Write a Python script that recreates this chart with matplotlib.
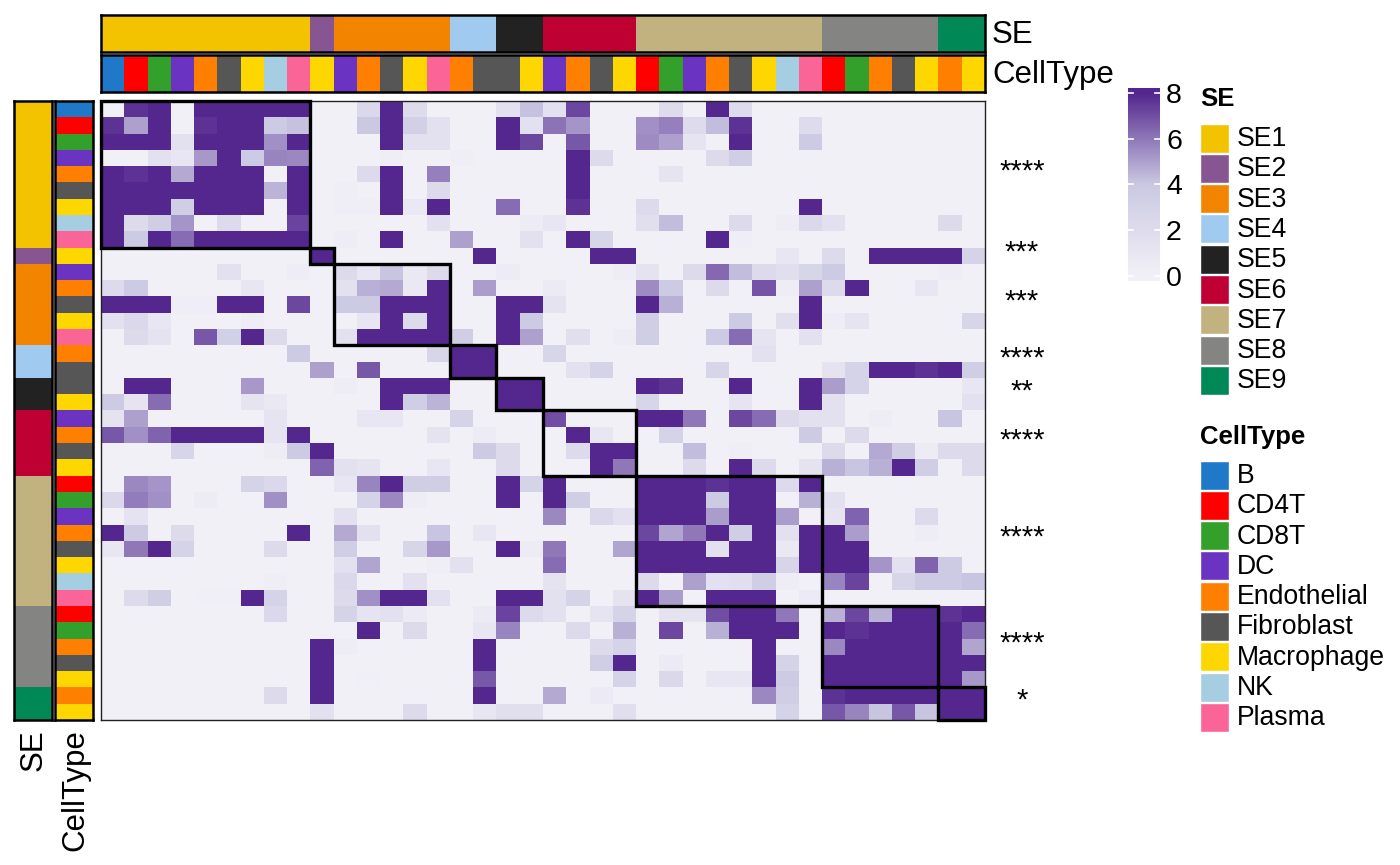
import numpy as np
import matplotlib
matplotlib.use("Agg")
import matplotlib.pyplot as plt
from matplotlib.colors import LinearSegmentedColormap, ListedColormap
from matplotlib.patches import Rectangle

plt.rcParams['font.family'] = ['Liberation Sans', 'DejaVu Sans']

# ---------------- data ----------------
se_levels = ["SE1", "SE2", "SE3", "SE4", "SE5", "SE6", "SE7", "SE8", "SE9"]
se_colors = ["#F3C300", "#875692", "#F38400", "#A1CAF1", "#222222",
             "#BE0032", "#C2B280", "#848482", "#008856"]
ct_levels = ["B", "CD4T", "CD8T", "DC", "Endothelial", "Fibroblast",
             "Macrophage", "NK", "Plasma"]
ct_colors = ["#1F78C8", "#FF0000", "#33A02C", "#6A33C2", "#FF7F00",
             "#565656", "#FFD700", "#A6CEE3", "#FB6496"]

sample_se = (["SE1"] * 9 + ["SE2"] + ["SE3"] * 5 + ["SE4"] * 2 + ["SE5"] * 2 +
             ["SE6"] * 4 + ["SE7"] * 8 + ["SE8"] * 5 + ["SE9"] * 2)
sample_ct = ["B", "CD4T", "CD8T", "DC", "Endothelial", "Fibroblast", "Macrophage", "NK", "Plasma",
             "Macrophage",
             "DC", "Endothelial", "Fibroblast", "Macrophage", "Plasma",
             "Endothelial", "Fibroblast",
             "Fibroblast", "Macrophage",
             "DC", "Endothelial", "Fibroblast", "Macrophage",
             "CD4T", "CD8T", "DC", "Endothelial", "Fibroblast", "Macrophage", "NK", "Plasma",
             "CD4T", "CD8T", "Endothelial", "Fibroblast", "Macrophage",
             "Endothelial", "Macrophage"]

significance = ["****", "***", "***", "****", "**", "****", "****", "****", "*"]

values = [
 [0,7.7,8,0,8,8,8,8,8,0,0,2.5,8,2,0,0,0,1.5,4.2,1.5,7.2,0,0,0,2,0,8,2,0,0,0,0,0,0,0,0,0,0],
 [7.7,5,8,0,7.7,8,8,3.8,4.2,0,0,4,8,3.3,1.5,0,0,8,1.5,6.1,5.3,0,0,5.4,5.8,2,4.3,7.7,0,0,2,0,0,0,0,0,0,0],
 [8,8,8,1.5,8,8,8,5.4,8,0,0,0,8,1.5,1.5,0,0,8,7.2,0,6.8,0,0,5.5,5,1.2,0,8,0,0,3.8,0,0,0,0,0,0,0],
 [0,0,1.5,1,5.2,8,3.8,5.7,5.6,0,0,0,0.3,0,0,0.3,0,0,0,0,8,2.2,0,0,0,0,2.3,3.5,0,0,0,0,0,0,0,0,0,0],
 [8,7.7,8,4.8,8,8,8,0,8,0,0,2.2,8,0,5.8,0,0,0,0,0,8,0,0,0,1.2,0,0,0,0,0,0,0,0,0,0,0,0,0],
 [8,8,8,8,8,8,8,4.5,8,0,0.3,0,8,0,2.2,0,0,0,0,0,8,0,0,0,0,0,0,0,0,0,0,0,0,0,0,0,0,0],
 [8,8,8,3.5,8,8,8,0,8,0,0.3,0.3,8,0.8,8,0,0,6.3,0,0,7.7,0,0,2.3,0,0,0,0,0,0,8,0,0,0,0,0,0,0],
 [8,2.3,3.5,5.3,0,2.3,0,0,7.3,0,0,0,0,0,1.5,0,0,0,0.5,1,0,0,0,1.8,4.3,0,0,2.2,0,0.4,2.5,1.5,0,0,0,0,2.3,0],
 [8,3.8,8,6.3,8,8,8,8,8,0,0.4,0,8,0,0,5,0,0,1.5,0,8,2.8,0,0,0,0,8,0.3,0,0,0,0,0,0,0,0,0,0],
 [0,0,0,0,0,0,0,0,0,8,0,0,0,0,0,0,8,0,0,0,0,8,8,0,0,0,0,0,0,1,0,2.3,0,8,8,8,8,3],
 [0,0,0,0,0,1.5,0,0,0.4,0,2.2,1,4.1,0.8,2.3,0,0,0.5,0,0,0,0,0.4,1.4,0,2.3,6.4,4.3,2.2,1.8,2.8,3.8,0,0,0,0,0.4,0],
 [2.2,3.8,0,0,0,0,1,0,0,0,1.5,4.6,4.8,0.8,8,0,5.1,0,0,0.6,0,0,0,5.5,3.8,0,2.2,0,6.9,0.4,5,2.2,8,0,0,1,0,0],
 [8,8,8,0.3,0.3,8,8,0,7.2,0,3.8,3.8,8,8,8,0,0,8,8,1.4,0,0,0,8,4.6,0,0,0,0,0,8,0,0,0,0,0,0,0],
 [1.5,2.5,1,0,0,0,0.4,0,0,0,0,1,8,2.3,8,0,0,8,3.8,0,0,0,0,3.5,0,0,0,3.8,0,1.8,8,0.4,1.2,0,0,0,0,2.8],
 [0,2.2,1.4,0,6.8,3.3,8,2.3,0,0,1.5,8,8,8,8,3.5,0,8,5,0,1.8,0,0.4,3.5,0,0,3.8,6.3,1.2,0,1.5,0,0,0,0,0,0,0],
 [0,0,0,0,0,0,0,0,3.8,0,0,0,0,0,2.8,8,8,0,0,2.8,0,0,0,0,0,0,0,0,1.5,0,0,0,0,0,0,0,0,0],
 [0,0,0,0,0,0,0,0,0,5,0,6.8,0,0,0,8,8,0,0,0,1.5,3,0,0,0,0,2.8,0,0,0,0,1.4,3,8,8,7.7,8,3.5],
 [0,8,8,0,0,0,5.2,0,0,0,0.4,0,8,8,8,0,0,8,8,0,0,0,0,8,7.7,0,0,8,0,0,8,5.1,3,0,0,0,0,1],
 [3.8,1.2,6.3,0,0,0,1.2,0.8,0,0,0,0,8,3.5,4.5,0,0,8,8,0,0,0,0,2.8,0,0,0,1.2,0,0,8,1.5,0,0,0,0,0,1.5],
 [1.4,5,0,0,0,0,0,1.2,0,0,0,1,1,0,0,3,0,0,0,7,0,0,0,8,8,6,0,7.2,6.3,2.2,1.5,1.5,0,0.4,0,0,4.1,0],
 [6.8,5.4,6.5,8,8,8,8,1.2,8,0,0,0,0,0,1.4,0,0.5,0,0,0,8,1,0,0,3,0,0,0,0,0,3.8,0,2.2,0,0,0,0,0],
 [0,0,0,2.8,0,0,0,0.4,3.8,8,0,0,0,0,0,0,3.8,2.3,0,0,2.3,8,8,0,0,4.3,0,0.3,0,0,0,2.2,0,4.8,3.5,0.5,2.2,2.2],
 [0,0,0,0,0,0,0,0,0,6.5,1.5,1.2,0,0,1,0,0,2.2,0,0,0,8,6,0,0,2.3,0,8,2.2,0,1.4,4.6,4.1,4.6,8,3.5,0,2.2],
 [0,5.6,5.3,0,0,0,3,2.5,0,0,1,5.7,8,3.5,3.5,0,0,8,3,8,0,0,0,8,8,8,7.7,8,8,2.2,8,0,0,0,0,0,0,0],
 [2.5,5.9,5.4,0,0.5,0,0,5.4,0,0,0,3,5.6,0.4,0,0,0,8,0,8,3.5,0,0,8,8,8,3.8,8,8,0,4.6,1.5,0,0,0,0,0,0],
 [0,1.4,0,0,0,0,0,0,0,0,1.5,0,0,0,0,0,0,0,0,5.6,0,2.5,1.5,8,8,8,5.1,8,8,5.1,0,1.2,6.5,0,0,2.3,0,0],
 [8,3.8,0,2.3,0,0,0,0,8,0,4.8,1.5,0,0,4.1,0,1,0,0,0,0,0,0,7.2,4.9,6,8,3.5,8,1.5,8,8,5.1,0,0,0.4,0,0],
 [1,6,8,3,0,0,0,2.3,0,0,3.5,0,0,2.8,5.2,0,0,8,0.5,6,0,0,4.9,8,8,8,1.5,8,8,0.8,8,8,8,0,0,0,0,0],
 [0,0,0,0,0,0,0,0,0,0,1.5,4.9,0,0,0.3,1.5,0,0,0,6.3,0,0,0,8,8,8,8,8,8,2.8,8,8,8,5.3,1.5,6.5,3.8,0],
 [0,0,0,0,0,0,0,0.3,0,0,2.5,0,0,1.5,0,0,0,0,0,1.4,0,0,0,2.2,0,5,1.5,1.8,3.5,0.4,0,5.7,7.3,0,2.8,3.8,3.8,4.1],
 [0,2.2,3.5,0,0.2,0.2,8,3,0,0,2.3,5.4,8,8,1.5,0,0,8,8,1.5,3,0,1.4,8,5.1,0,8,8,8,0,0.6,0,0,0,0,0,0,0],
 [0,0,0,0,0,0,0,2.5,0,0,3,1.2,1.5,0.6,0,0,0.6,7.3,2.2,1.5,0,1.2,3,0,1.4,1.4,7,8,8,6,0,4.6,7.2,4.6,8,8,7.7,8],
 [0,0,0,0,0,0,0,0,0,0,0,8,0,2.2,0,0,1,5.7,0,0,2.2,0,4.6,0,7.2,0,4.6,8,8,8,0,8,7.7,8,8,8,8,6.3],
 [0,0,0,0,0,0,0,0,0,8,0.4,0,0,0,0,0,8,0,0,0,0,2.2,3,0,0,0,0,0,8,0,0,5.6,8,8,8,8,8,4.9],
 [0,0,0,0,0,0,0,0,0,8,0,0,0,0,0,0,8,0,0,0,0,3.5,8,0,0.6,0,0,0,8,3,0,8,8,8,8,8,8,8],
 [0,0,0,0,0,0,0,0,0,8,0,0.2,0,0,0,0,6.8,0,0,0,0,0,3,0,2.5,0,1,1,8,3.8,0,8,8,8,8,8,8,5.2],
 [0,0,0,0,0,0,0,2.2,0,8,0,0,0,0,0,0,8,0,0,4.8,0,0.6,0,0,0,0,0,0,5.6,3.5,0,7.7,8,8,8,8,8,8],
 [0,0,0,0,0,0,0,0,0,1.5,0,0,0,2.2,0,0,1,1.8,1.8,0,0,0,1.8,0,0,0,0,0,0,3,0,6.8,5.7,4.1,6.8,4.1,8,8],
]

cmap_breaks = [0, 4, 8]
cmap_cols = ["#F2F0F7", "#CBC9E2", "#54278F"]
legend_ticks = [0, 2, 4, 6, 8]

# ---------------- figure ----------------
W, H = 1400, 865
fig = plt.figure(figsize=(W / 100, H / 100), dpi=100)


def ax_px(x0, y0, x1, y1, **kw):
    return fig.add_axes([x0 / W, 1 - y1 / H, (x1 - x0) / W, (y1 - y0) / H], **kw)


M = np.array(values, dtype=float)
n = M.shape[0]
cmap = LinearSegmentedColormap.from_list(
    "hm", [(b / cmap_breaks[-1], c) for b, c in zip(cmap_breaks, cmap_cols)])

# main heatmap
hx0, hy0, hx1, hy1 = 101, 101, 985, 720
ax = ax_px(hx0, hy0, hx1, hy1)
ax.pcolormesh(np.arange(n + 1), np.arange(n + 1), M, cmap=cmap,
              vmin=cmap_breaks[0], vmax=cmap_breaks[-1], shading="flat")
ax.set_xlim(0, n)
ax.set_ylim(n, 0)
ax.set_xticks([])
ax.set_yticks([])
for sp in ax.spines.values():
    sp.set_linewidth(1.0)
    sp.set_color("#222222")

# diagonal blocks
counts = [sample_se.count(s) for s in se_levels]
start = 0
for c in counts:
    ax.add_patch(Rectangle((start, start), c, c, fill=False, ec="black",
                           lw=2.4, clip_on=False, zorder=5))
    start += c

# annotation bars
se_idx = np.array([se_levels.index(s) for s in sample_se])
ct_idx = np.array([ct_levels.index(s) for s in sample_ct])
se_cmap = ListedColormap(se_colors)
ct_cmap = ListedColormap(ct_colors)


def style(a):
    a.set_xticks([])
    a.set_yticks([])
    for sp in a.spines.values():
        sp.set_linewidth(1.8)
        sp.set_color("black")


# top annotations
a = ax_px(hx0, 15, hx1, 52)
a.pcolormesh(np.arange(n + 1), [0, 1], se_idx[None, :], cmap=se_cmap,
             vmin=-0.5, vmax=len(se_levels) - 0.5)
a.set_xlim(0, n); style(a)
a = ax_px(hx0, 55, hx1, 92)
a.pcolormesh(np.arange(n + 1), [0, 1], ct_idx[None, :], cmap=ct_cmap,
             vmin=-0.5, vmax=len(ct_levels) - 0.5)
a.set_xlim(0, n); style(a)

# left annotations
a = ax_px(14, hy0, 52, hy1)
a.pcolormesh([0, 1], np.arange(n + 1), se_idx[:, None], cmap=se_cmap,
             vmin=-0.5, vmax=len(se_levels) - 0.5)
a.set_ylim(n, 0); style(a)
a = ax_px(55, hy0, 93, hy1)
a.pcolormesh([0, 1], np.arange(n + 1), ct_idx[:, None], cmap=ct_cmap,
             vmin=-0.5, vmax=len(ct_levels) - 0.5)
a.set_ylim(n, 0); style(a)

# colour bar
cb_y_top, cb_y_bot = 88, 281
tick_top, tick_bot = 93, 275.7
per = (tick_bot - tick_top) / (legend_ticks[-1] - legend_ticks[0])
vmax_bar = legend_ticks[-1] + (tick_top - cb_y_top) / per
vmin_bar = legend_ticks[0] - (cb_y_bot - tick_bot) / per
cax = ax_px(1128, cb_y_top, 1160, cb_y_bot)
grad = np.clip(np.linspace(vmin_bar, vmax_bar, 400), 0, 8)[:, None]
cax.imshow(grad, aspect="auto", origin="lower", cmap=cmap, vmin=0, vmax=8,
           extent=[0, 1, vmin_bar, vmax_bar])
cax.set_xlim(0, 1)
cax.set_ylim(vmin_bar, vmax_bar)
cax.axis("off")
for t in legend_ticks:
    cax.plot([0, 0.17], [t, t], color="white", lw=1.2)
    cax.plot([0.83, 1], [t, t], color="white", lw=1.2)

# overlay for texts / legends
ov = fig.add_axes([0, 0, 1, 1], facecolor="none")
ov.set_xlim(0, W)
ov.set_ylim(H, 0)
ov.axis("off")

for t in legend_ticks:
    y = tick_top + (legend_ticks[-1] - t) * per
    ov.text(1166, y + 3, str(t), fontsize=20.5, ha="left", va="center")

# annotation names
ov.text(992, 35, "SE", fontsize=22.5, ha="left", va="center")
ov.text(992, 75, "CellType", fontsize=22.5, ha="left", va="center")
ov.text(34, 729, "SE", fontsize=22.5, ha="center", va="top", rotation=90)
ov.text(75, 729, "CellType", fontsize=22.5, ha="center", va="top", rotation=90)

# significance
row_h = (hy1 - hy0) / n
start = 0
for c, s in zip(counts, significance):
    yc = hy0 + (start + c / 2) * row_h
    ov.text(1022, yc - 3, s, fontsize=21, ha="center", va="center")
    start += c

# discrete legends
def draw_legend(title, labels, colors, title_y, first_y):
    ov.text(1200, title_y, title, fontsize=18.5, fontweight="bold",
            ha="left", va="center")
    for i, (lab, col) in enumerate(zip(labels, colors)):
        yc = first_y + i * 30.3
        ov.add_patch(Rectangle((1200, yc - 14.5), 28.5, 29, fc=col,
                               ec="white", lw=1.0))
        ov.text(1237, yc + 1, lab, fontsize=19.2, ha="left", va="center")


draw_legend("SE", se_levels, se_colors, 99, 138)
draw_legend("CellType", ct_levels, ct_colors, 437, 475)

fig.savefig("out.png", dpi=100)
